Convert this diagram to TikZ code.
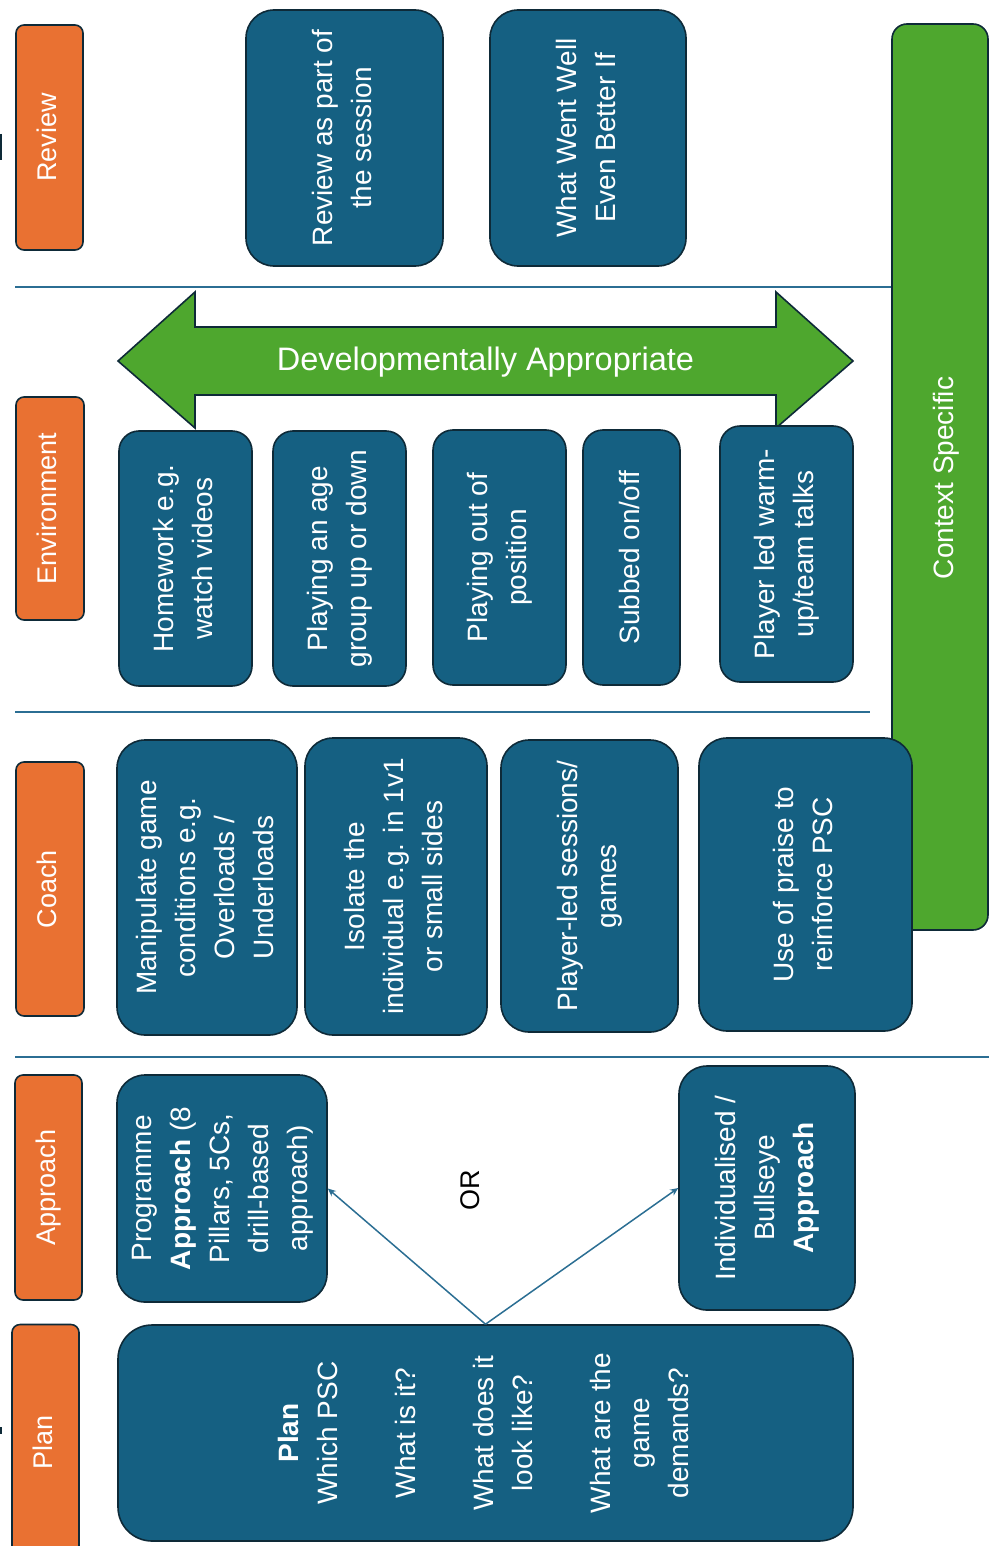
\documentclass[tikz,border=0pt]{standalone}
\usepackage{fontspec}
\setmainfont{Liberation Sans}
\usetikzlibrary{arrows.meta}
\definecolor{boxblue}{HTML}{156082}
\definecolor{edge}{HTML}{0E2A38}
\definecolor{tagorange}{HTML}{E97132}
\definecolor{leafgreen}{HTML}{4EA72E}
\definecolor{rulecol}{HTML}{2B6E93}
% text set bottom-to-top, lines centred
\newcommand{\vlines}[1]{\rotatebox{90}{\begin{tabular}{@{}c@{}}#1\end{tabular}}}

\begin{document}
\begin{tikzpicture}[x=1pt,y=-1pt,
  tag/.style={draw=edge, line width=1.6pt, fill=tagorange, rounded corners=8pt,
    inner sep=0pt, text=white, font=\fontsize{27}{34}\selectfont},
  card/.style={draw=edge, line width=1.6pt, fill=boxblue, rounded corners=28pt,
    inner sep=0pt, text=white, font=\fontsize{28}{39}\selectfont},
  smallcard/.style={card, rounded corners=20pt},
  divider/.style={draw=rulecol, line width=1.8pt},
  conn/.style={draw=rulecol, line width=1.5pt, -{Stealth[length=8pt,width=7pt]}}
]
\clip (0,0) rectangle (989,1546);

% stage dividers
\coordinate (d1a) at (15,287);   \coordinate (d1b) at (892,287);
\coordinate (d2a) at (15,712);   \coordinate (d2b) at (870,712);
\coordinate (d3a) at (15,1057);  \coordinate (d3b) at (989,1057);
\draw[divider] (d1a) -- (d1b);
\draw[divider] (d2a) -- (d2b);
\draw[divider] (d3a) -- (d3b);

% stray marks on the left edge
\draw[edge, line width=2pt] (1,134) -- (1,160);
\draw[edge, line width=2pt] (1,1427) -- (1,1434);

% context band
\node[draw=edge, line width=1.6pt, fill=leafgreen, rounded corners=15pt,
  minimum width=96pt, minimum height=906pt] (ctx) at (940,477) {};
\node[text=white, font=\fontsize{28}{34}\selectfont] (ctxText) at (946,478)
  {\rotatebox{90}{Context Specific}};

% stage tags
\node[tag, minimum width=67pt, minimum height=225pt] (tagReview) at (49.5,137.5) {\vlines{Review}};
\node[tag, minimum width=68pt, minimum height=223pt] (tagEnv) at (50,508.5) {\vlines{Environment}};
\node[tag, minimum width=68pt, minimum height=254pt] (tagCoach) at (50,889) {\vlines{Coach}};
\node[tag, minimum width=67pt, minimum height=225pt] (tagApproach) at (48.5,1187.5) {\vlines{Approach}};
\node[tag, minimum width=67pt, minimum height=235pt] (tagPlan) at (45.5,1442) {\vlines{Plan}};

% review
\node[card, minimum width=197pt, minimum height=256pt] (rev1) at (344.5,138)
  {\vlines{Review as part of\\the session}};
\node[card, minimum width=196pt, minimum height=256pt] (rev2) at (588,138)
  {\vlines{What Went Well\\Even Better If}};

% developmentally appropriate double arrow
\draw[draw=edge, line width=1.6pt, fill=leafgreen, line join=miter]
  (118,361) -- (195,292) -- (195,327) -- (776,327) -- (776,292) -- (853,361)
  -- (776,428) -- (776,395) -- (195,395) -- (195,428) -- cycle;
\node[text=white, font=\fontsize{32.5}{38}\selectfont] (devText) at (485.5,362)
  {Developmentally Appropriate};

% environment
\node[smallcard, minimum width=133pt, minimum height=255pt] (env1) at (185.5,558.5)
  {\vlines{Homework e.g.\\watch videos}};
\node[smallcard, minimum width=133pt, minimum height=255pt] (env2) at (339.5,558.5)
  {\vlines{Playing an age\\group up or down}};
\node[smallcard, minimum width=133pt, minimum height=255pt] (env3) at (499.5,557.5)
  {\vlines{Playing out of\\position}};
\node[smallcard, minimum width=97pt, minimum height=255pt] (env4) at (631.5,557.5)
  {\vlines{Subbed on/off}};
\node[smallcard, minimum width=133pt, minimum height=256pt] (env5) at (786.5,554)
  {\vlines{Player led warm-\\up/team talks}};

% coach
\node[card, minimum width=180pt, minimum height=295pt] (coach1) at (207,887.5)
  {\vlines{Manipulate game\\conditions e.g.\\Overloads /\\Underloads}};
\node[card, minimum width=182pt, minimum height=297pt] (coach2) at (396,886.5)
  {\vlines{Isolate the\\individual e.g. in 1v1\\or small sides}};
\node[card, minimum width=177pt, minimum height=292pt] (coach3) at (589.5,886)
  {\vlines{Player-led sessions/\\games}};
\node[card, minimum width=213pt, minimum height=293pt] (coach4) at (805.5,884.5)
  {\vlines{Use of praise to\\reinforce PSC}};

% approach
\node[card, minimum width=210pt, minimum height=227pt] (prog) at (222,1188.5)
  {\vlines{Programme\\\textbf{Approach} (8\\Pillars, 5Cs,\\drill-based\\approach)}};
\node[card, minimum width=176pt, minimum height=244pt] (indiv) at (767,1188)
  {\vlines{Individualised /\\Bullseye\\\textbf{Approach}}};
\node[font=\fontsize{27}{32}\selectfont] (orText) at (470,1190) {\rotatebox{90}{OR}};

% plan
\node[card, rounded corners=34pt, minimum width=735pt, minimum height=216pt] (plan) at (485.5,1433)
  {\vlines{\textbf{Plan}\\Which PSC\\ \\What is it?\\ \\What does it\\look like?\\ \\What are the\\game\\demands?}};

\draw[conn] (plan.north) -- (prog.east);
\draw[conn] (plan.north) -- (indiv.west);
\end{tikzpicture}
\end{document}
